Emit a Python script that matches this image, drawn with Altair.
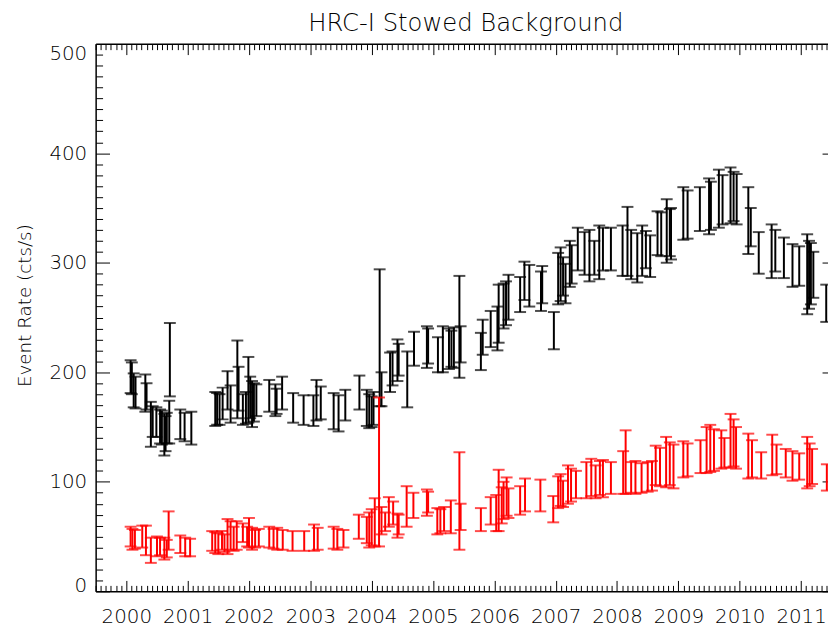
import altair as alt
import pandas as pd

# ---- data (decimal year, lower, upper) ----
black_year = [2000.07, 2000.09, 2000.12, 2000.15, 2000.31, 2000.33, 2000.40, 2000.43, 2000.49, 2000.55,
              2000.58, 2000.62, 2000.64, 2000.66, 2000.70, 2000.71, 2000.88, 2000.95, 2001.06, 2001.45,
              2001.48, 2001.52, 2001.57, 2001.65, 2001.70, 2001.81, 2001.83, 2001.90, 2001.95, 2001.99,
              2002.02, 2002.05, 2002.08, 2002.12, 2002.33, 2002.43, 2002.45, 2002.54, 2002.72, 2002.89,
              2003.05, 2003.10, 2003.17, 2003.38, 2003.46, 2003.57, 2003.80, 2003.92, 2003.96, 2004.00,
              2004.03, 2004.13, 2004.16, 2004.30, 2004.34, 2004.42, 2004.44, 2004.58, 2004.69, 2004.90,
              2004.92, 2005.08, 2005.16, 2005.26, 2005.30, 2005.34, 2005.43, 2005.45, 2005.78, 2005.81,
              2005.94, 2006.05, 2006.07, 2006.15, 2006.19, 2006.23, 2006.42, 2006.49, 2006.57, 2006.76,
              2006.78, 2006.97, 2007.04, 2007.08, 2007.12, 2007.16, 2007.23, 2007.26, 2007.36, 2007.47,
              2007.55, 2007.63, 2007.71, 2007.77, 2007.90, 2008.09, 2008.17, 2008.23, 2008.33, 2008.41,
              2008.47, 2008.54, 2008.66, 2008.72, 2008.81, 2008.86, 2008.88, 2009.08, 2009.15, 2009.35,
              2009.50, 2009.53, 2009.66, 2009.72, 2009.85, 2009.90, 2009.95, 2010.14, 2010.18, 2010.31,
              2010.52, 2010.58, 2010.72, 2010.86, 2010.97, 2011.10, 2011.13, 2011.16, 2011.20, 2011.41]
black_lo = [181, 180, 168, 167, 164, 166, 132, 141, 141, 135,
            134, 124, 128, 135, 135, 178, 139, 137, 134, 151,
            152, 152, 157, 166, 154, 158, 165, 152, 153, 154,
            158, 150, 155, 160, 164, 160, 162, 166, 154, 152,
            151, 156, 157, 148, 146, 156, 166, 151, 149, 150,
            152, 169, 169, 182, 188, 192, 197, 168, 206, 204,
            208, 200, 200, 203, 205, 204, 195, 209, 202, 216,
            223, 220, 227, 240, 243, 248, 255, 266, 260, 256,
            263, 221, 262, 265, 270, 263, 278, 281, 293, 289,
            283, 289, 285, 293, 293, 288, 288, 285, 282, 288,
            295, 287, 307, 306, 300, 306, 303, 321, 322, 329,
            326, 330, 332, 335, 336, 338, 335, 308, 315, 290,
            286, 292, 286, 278, 279, 253, 258, 262, 268, 246]
black_hi = [211, 209, 199, 196, 198, 190, 173, 169, 168, 166,
            165, 162, 160, 163, 174, 245, 166, 163, 164, 182,
            181, 180, 186, 201, 188, 229, 205, 180, 182, 214,
            196, 192, 190, 189, 193, 189, 185, 196, 181, 179,
            179, 193, 187, 181, 179, 184, 197, 184, 180, 178,
            182, 294, 200, 218, 219, 230, 226, 219, 237, 242,
            240, 232, 242, 240, 238, 241, 288, 242, 236, 248,
            256, 260, 280, 281, 283, 289, 287, 301, 298, 292,
            297, 255, 309, 314, 305, 299, 320, 316, 332, 328,
            330, 320, 334, 332, 332, 334, 351, 330, 327, 334,
            329, 325, 347, 346, 358, 349, 350, 369, 366, 369,
            377, 374, 385, 380, 387, 383, 381, 369, 350, 328,
            335, 330, 323, 317, 315, 326, 320, 318, 310, 280]

red_year = [2000.07, 2000.10, 2000.14, 2000.26, 2000.32, 2000.40, 2000.50, 2000.55, 2000.62, 2000.66,
            2000.69, 2000.88, 2000.96, 2001.04, 2001.40, 2001.45, 2001.50, 2001.56, 2001.60, 2001.65,
            2001.70, 2001.75, 2001.80, 2001.90, 2001.97, 2002.00, 2002.05, 2002.10, 2002.16, 2002.33,
            2002.40, 2002.46, 2002.55, 2002.71, 2002.90, 2003.06, 2003.12, 2003.38, 2003.44, 2003.54,
            2003.79, 2003.92, 2003.96, 2004.00, 2004.05, 2004.12, 2004.16, 2004.22, 2004.28, 2004.35,
            2004.42, 2004.44, 2004.57, 2004.68, 2004.90, 2004.92, 2005.07, 2005.12, 2005.18, 2005.29,
            2005.43, 2005.45, 2005.78, 2005.94, 2006.03, 2006.07, 2006.12, 2006.15, 2006.20, 2006.23,
            2006.42, 2006.50, 2006.75, 2006.96, 2007.04, 2007.08, 2007.12, 2007.20, 2007.25, 2007.33,
            2007.50, 2007.58, 2007.65, 2007.72, 2007.77, 2007.90, 2008.10, 2008.14, 2008.23, 2008.30,
            2008.40, 2008.50, 2008.57, 2008.63, 2008.70, 2008.80, 2008.86, 2008.92, 2009.08, 2009.15,
            2009.36, 2009.46, 2009.52, 2009.58, 2009.70, 2009.75, 2009.85, 2009.90, 2009.94, 2010.14,
            2010.20, 2010.35, 2010.53, 2010.60, 2010.75, 2010.86, 2010.97, 2011.10, 2011.14, 2011.18,
            2011.42]
red_lo = [41, 38, 39, 40, 33, 26, 32, 33, 29, 31,
          38, 35, 32, 32, 37, 35, 34, 38, 36, 34,
          38, 37, 38, 45, 41, 40, 38, 40, 41, 40,
          39, 38, 38, 37, 37, 37, 38, 39, 38, 40,
          48, 44, 40, 42, 41, 41, 52, 55, 59, 61,
          49, 52, 59, 67, 69, 72, 52, 53, 55, 53,
          38, 56, 55, 61, 55, 55, 62, 66, 69, 67,
          70, 73, 73, 63, 76, 78, 77, 80, 82, 85,
          85, 87, 85, 88, 86, 89, 89, 89, 90, 89,
          90, 91, 92, 97, 96, 95, 97, 94, 104, 105,
          108, 108, 109, 110, 112, 113, 113, 114, 112, 103,
          104, 103, 106, 107, 104, 101, 102, 94, 96, 98,
          92]
red_hi = [59, 57, 56, 60, 60, 49, 50, 49, 49, 47,
          73, 51, 49, 48, 55, 54, 53, 55, 52, 66,
          64, 59, 64, 62, 59, 67, 58, 56, 57, 59,
          57, 58, 56, 55, 55, 61, 58, 59, 57, 56,
          70, 68, 72, 75, 85, 177, 77, 72, 86, 82,
          71, 70, 96, 90, 93, 91, 76, 75, 77, 83,
          127, 80, 76, 86, 88, 111, 95, 100, 104, 94,
          96, 103, 102, 87, 105, 107, 101, 115, 112, 110,
          118, 121, 115, 119, 120, 118, 128, 147, 118, 119,
          117, 118, 119, 133, 131, 141, 136, 134, 137, 135,
          138, 150, 152, 148, 147, 140, 162, 157, 150, 144,
          138, 127, 143, 134, 130, 128, 126, 141, 135, 130,
          116]

title_text = "HRC-I Stowed Background"
y_title = "Event Rate (cts/s)"
x_tick_values = [round(1999.5 + k / 12, 6) for k in range(144)]   # monthly ticks
y_tick_values = list(range(0, 501, 10))

black = pd.DataFrame({"year": black_year, "lo": black_lo, "hi": black_hi})
red = pd.DataFrame({"year": red_year, "lo": red_lo, "hi": red_hi})

FONT = "DejaVu Sans"
W, H = 739.5, 553

x_axis = alt.Axis(
    values=x_tick_values,
    labelExpr="abs(datum.value - round(datum.value)) < 0.001 ? format(datum.value, 'd') : ''",
    ticks=False, tickSize=0,
    grid=True, gridColor="black", gridOpacity=1, gridWidth=1,
    gridDash={"condition": {"test": "abs(datum.value - round(datum.value)) < 0.001",
                            "value": [11, H - 22, 11, 2000]},
              "value": [6, H - 12, 6, 2000]},
    domain=True, domainColor="black", domainWidth=1.5,
    labelFont=FONT, labelFontSize=20, labelFontWeight=300, labelColor="black", labelPadding=15,
    labelFlush=False, labelOverlap=False, title=None,
)

y_axis = alt.Axis(
    values=y_tick_values,
    labelExpr="datum.value % 100 == 0 ? format(datum.value, 'd') : ''",
    ticks=False, tickSize=0,
    grid=True, gridColor="black", gridOpacity=1,
    gridWidth={"condition": {"test": "datum.value >= 500", "value": 1.5}, "value": 1},
    gridDash={"condition": [{"test": "datum.value >= 500", "value": [3000, 0]},
                            {"test": "datum.value % 100 == 0", "value": [14, W - 20, 6, 2000]}],
              "value": [7, 3000]},
    domain=True, domainColor="black", domainWidth=1.5,
    labelFont=FONT, labelFontSize=20, labelFontWeight=300, labelColor="black", labelPadding=9,
    labelFlush=False, labelOverlap=False,
    labelBaseline={"condition": [{"test": "datum.value >= 500", "value": "top"},
                                 {"test": "datum.value <= 0", "value": "alphabetic"}],
                   "value": "middle"},
    title=y_title, titleFont=FONT, titleFontSize=18.5, titleFontWeight=300,
    titleColor="black", titleX=-71.5, titleY=264, titleBaseline="middle", titleAlign="center",
)

xs = alt.Scale(domain=[1999.5, 1999.5 + W / 61.94], nice=False, zero=False)
ys = alt.Scale(domain=[0, 500], nice=False, zero=False)


def bars(df, color):
    base = alt.Chart(df)
    x = alt.X("year:Q", scale=xs, axis=x_axis, title=None)
    rule = base.mark_rule(color=color, strokeWidth=2).encode(
        x=x, y=alt.Y("lo:Q", scale=ys, axis=y_axis, title=y_title), y2="hi:Q")
    cap_lo = base.mark_tick(color=color, orient="horizontal", size=12, thickness=2).encode(
        x=x, y=alt.Y("lo:Q", scale=ys, axis=y_axis, title=y_title))
    cap_hi = base.mark_tick(color=color, orient="horizontal", size=12, thickness=2).encode(
        x=x, y=alt.Y("hi:Q", scale=ys, axis=y_axis, title=y_title))
    return [rule, cap_lo, cap_hi]


chart = alt.layer(*bars(black, "black"), *bars(red, "#ff0000")).properties(
    width=W, height=H,
    title=alt.TitleParams(title_text, font=FONT, fontSize=24.5, fontWeight=300, color="black",
                          anchor="middle", frame="group", dx=4, dy=23, offset=11,
                          baseline="alphabetic"),
    autosize=alt.AutoSizeParams(type="none"),
    padding={"left": 88.5, "top": 33, "right": 0, "bottom": 37},
    background="white",
).configure_view(stroke=None)

chart.save("out.html", embed_options={"renderer": "svg", "actions": False})
